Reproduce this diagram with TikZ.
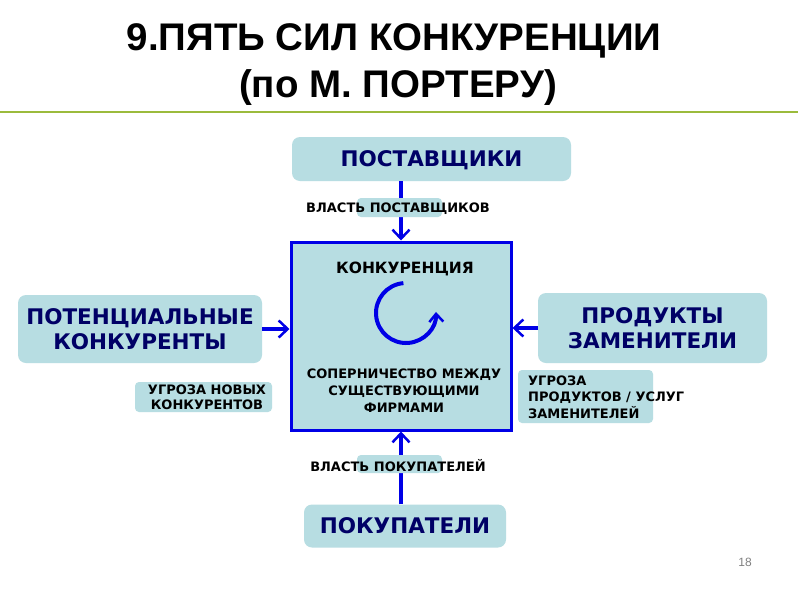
\documentclass[tikz,border=0pt]{standalone}
\usepackage{fontspec}
\setmainfont{DejaVu Sans}
\newfontfamily\titlefont{Liberation Sans}
\usetikzlibrary{arrows.meta}
\definecolor{boxfill}{RGB}{183,221,226}
\definecolor{navy}{RGB}{0,0,102}
\definecolor{arrblue}{RGB}{0,0,230}
\definecolor{rulegreen}{RGB}{155,187,60}
\tikzset{
  bigbox/.style={fill=boxfill, rounded corners=8pt, text=navy, font=\bfseries\fontsize{21.5}{25}\selectfont, align=center, inner sep=0pt},
  arr/.style={draw=arrblue, line width=4pt, -{Straight Barb[length=9pt,width=17pt,line width=2.5pt]}},
  lbl/.style={font=\bfseries\fontsize{13}{15}\selectfont, text=black, inner sep=0pt},
  hl/.style={fill=boxfill, rounded corners=4pt},
  ttl/.style={font=\titlefont\bfseries\fontsize{38.5}{44}\selectfont, anchor=base, inner sep=0pt},
}
\begin{document}
\begin{tikzpicture}[x=1pt,y=-1pt]
\useasboundingbox (0,0) rectangle (800,600);
\fill[white] (0,0) rectangle (800,600);
% title
\node[ttl] (t1) at (394,50) {9.ПЯТЬ СИЛ КОНКУРЕНЦИИ};
\node[ttl] (t2) at (398,97) {(по М. ПОРТЕРУ)};
\draw[rulegreen, line width=2.5pt] (0,112) -- (798,112);
% main box
\node[draw=arrblue, line width=3pt, fill=boxfill, minimum width=220pt, minimum height=188pt, inner sep=0pt] (main) at (401,336) {};
\node[font=\bfseries\fontsize{15.5}{18}\selectfont, anchor=base, inner sep=0pt] (konk) at (405,273) {КОНКУРЕНЦИЯ};
\draw[arrblue, line width=4pt, -{Straight Barb[length=8pt,width=14pt,line width=2.5pt]}] (406,313) ++(-95:30) arc[start angle=-95, end angle=-362, radius=30];
\node[font=\bfseries\fontsize{13}{17}\selectfont, align=center, anchor=base, inner sep=0pt] (sop) at (404,412) {СОПЕРНИЧЕСТВО МЕЖДУ\\СУЩЕСТВУЮЩИМИ\\ФИРМАМИ};
% outer boxes
\node[bigbox, minimum width=279pt, minimum height=44pt, text depth=0pt] (sup) at (431.5,159) {ПОСТАВЩИКИ};
\node[bigbox, minimum width=202pt, minimum height=43pt, text depth=0pt] (buy) at (405,526) {ПОКУПАТЕЛИ};
\node[bigbox, minimum width=244pt, minimum height=68pt] (pot) at (140,329) {ПОТЕНЦИАЛЬНЫЕ\\КОНКУРЕНТЫ};
\node[bigbox, minimum width=229pt, minimum height=70pt] (prod) at (652.5,328) {ПРОДУКТЫ\\ЗАМЕНИТЕЛИ};
% arrows
\draw[arr] (sup.south -| main.north) -- (main.north);
\draw[arr] (buy.north -| main.south) -- (main.south);
\draw[arr] (pot.east) -- (pot.east -| main.west);
\draw[arr] (prod.west) -- (prod.west -| main.east);
% labels
\fill[hl] (357,198) rectangle (442,217);
\node[lbl, text depth=0pt] (ls) at (398,208) {ВЛАСТЬ ПОСТАВЩИКОВ};
\fill[hl] (357,455) rectangle (442,473);
\node[lbl, text depth=0pt] (lb) at (398,465) {ВЛАСТЬ ПОКУПАТЕЛЕЙ};
\fill[hl] (135,382) rectangle (272,412);
\node[lbl, align=center] (lnew) at (207,397) {УГРОЗА НОВЫХ\\КОНКУРЕНТОВ};
\fill[hl] (518,370) rectangle (653,423);
\node[lbl, font=\bfseries\fontsize{13}{16.5}\selectfont, align=left, anchor=west] (lsub) at (528,397) {УГРОЗА\\ПРОДУКТОВ / УСЛУГ\\ЗАМЕНИТЕЛЕЙ};
\node[text=gray, font=\titlefont\fontsize{12}{14}\selectfont] (pg) at (745,562) {18};
\end{tikzpicture}
\end{document}
